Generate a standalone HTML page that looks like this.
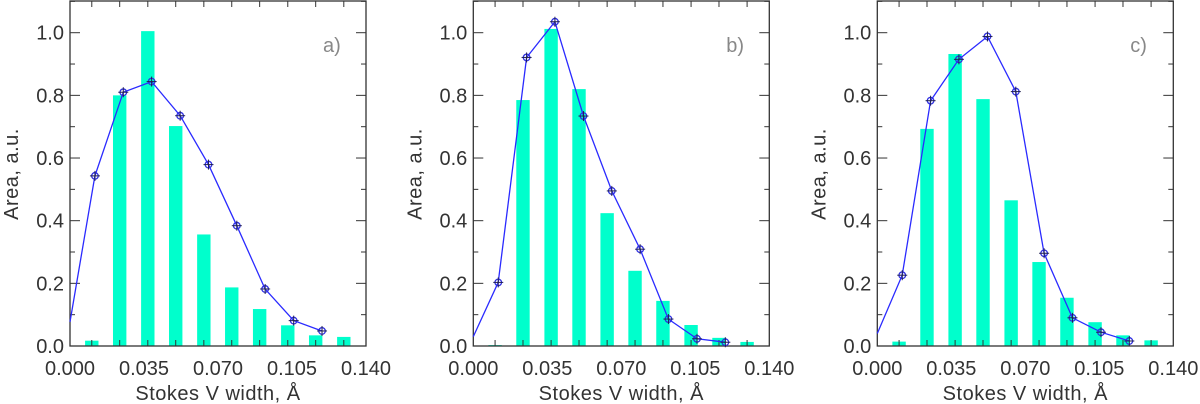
<!DOCTYPE html>
<html><head><meta charset="utf-8"><style>
html,body{margin:0;padding:0;background:#fff;}
svg{display:block;font-family:"Liberation Sans",sans-serif;}
</style></head><body>
<svg id="chart" width="1200" height="404" viewBox="0 0 1200 404" xmlns="http://www.w3.org/2000/svg"></svg>
<script>
const xTicks = [0, 0.035, 0.070, 0.105, 0.140];
const xTickLabels = ["0.000", "0.035", "0.070", "0.105", "0.140"];
const yTicks = [0, 0.2, 0.4, 0.6, 0.8, 1.0];
const yTickLabels = ["0.0", "0.2", "0.4", "0.6", "0.8", "1.0"];
const barX = [0.0103, 0.0235, 0.0368, 0.0500, 0.0633, 0.0765, 0.0897, 0.1030, 0.1162, 0.1295];
const lineX = [0, 0.0118, 0.0252, 0.0386, 0.0521, 0.0655, 0.0789, 0.0923, 0.1058, 0.1192];
const panelLabels = ["a)", "b)", "c)"];
const barsA = [0.017, 0.80, 1.005, 0.702, 0.356, 0.187, 0.118, 0.066, 0.034, 0.029];
const barsB = [0.003, 0.785, 1.012, 0.82, 0.424, 0.24, 0.144, 0.067, 0.026, 0.013];
const barsC = [0.014, 0.693, 0.932, 0.788, 0.465, 0.268, 0.154, 0.076, 0.034, 0.018];
const lineA = [0.077, 0.543, 0.81, 0.844, 0.735, 0.579, 0.384, 0.182, 0.081, 0.048];
const lineB = [0.03, 0.203, 0.921, 1.035, 0.734, 0.495, 0.309, 0.086, 0.023, 0.012];
const lineC = [0.04, 0.226, 0.783, 0.915, 0.988, 0.812, 0.296, 0.09, 0.044, 0.016];

const NS = "http://www.w3.org/2000/svg";
const svg = document.getElementById("chart");
function mk(tag, attrs, parent){const e=document.createElementNS(NS,tag);for(const k in attrs)e.setAttribute(k,attrs[k]);(parent||svg).appendChild(e);return e;}

const panels = [
  {x0:70, bars:barsA, line:lineA},
  {x0:473.3, bars:barsB, line:lineB},
  {x0:877.3, bars:barsC, line:lineC}
];
const W = 296, yTop = 1, yBot = 346, yScale = 313.3, xMax = 0.14;

panels.forEach((p, pi) => {
  const g = mk("g", {});
  
  
  const sx = v => p.x0 + v / xMax * W;
  const sy = v => yBot - v * yScale;
  // bars
  p.bars.forEach((v, i) => {
    const r = mk("rect", {x: sx(barX[i]) - 6.7, y: sy(v), width: 13.4, height: yBot - sy(v), fill: "#00ffcc"}, g);
    
    
  });
  // frame
  const fr = mk("rect", {x: p.x0, y: yTop, width: W, height: yBot - yTop, fill: "none", stroke: "#333", "stroke-width": 1.3}, g);
  
  
  // y ticks (major + minor)
  for (let k = 0; k <= 11; k++) {
    const v = k * 0.1, y = sy(v), len = (k % 2 === 0) ? 10 : 5;
    mk("line", {x1: p.x0, x2: p.x0 + len, y1: y, y2: y, stroke: "#333", "stroke-width": 1}, g);
    mk("line", {x1: p.x0 + W, x2: p.x0 + W - len, y1: y, y2: y, stroke: "#333", "stroke-width": 1}, g);
  }
  yTicks.forEach((v, i) => {
    const t = mk("text", {x: p.x0 - 6, y: sy(v) + 7, "text-anchor": "end", "font-size": 20, fill: "#333"}, g);
    t.textContent = yTickLabels[i];
    
    
  });
  // x ticks
  barX.forEach(v => {
    mk("line", {x1: sx(v), x2: sx(v), y1: yBot, y2: yBot - 6, stroke: "#333", "stroke-width": 1}, g);
    mk("line", {x1: sx(v), x2: sx(v), y1: yTop, y2: yTop + 6, stroke: "#333", "stroke-width": 1}, g);
  });
  xTicks.forEach((v, i) => {
    const t = mk("text", {x: sx(v), y: 375, "text-anchor": "middle", "font-size": 20, fill: "#333"}, g);
    t.textContent = xTickLabels[i];
    
    
  });
  // line
  const pts = p.line.map((v, i) => sx(lineX[i]).toFixed(1) + "," + sy(v).toFixed(1)).join(" ");
  const pl = mk("polyline", {points: pts, fill: "none", stroke: "#2a2aff", "stroke-width": 1.3}, g);
  
  
  p.line.forEach((v, i) => {
    if (i === 0) return;
    const cx = sx(lineX[i]), cy = sy(v);
    const m = mk("g", {}, g);
    
    
    mk("circle", {cx: cx, cy: cy, r: 3.3, fill: "none", stroke: "#3030e0", "stroke-width": 1.3}, m);
    mk("line", {x1: cx - 5, x2: cx + 5, y1: cy, y2: cy, stroke: "#202050", "stroke-width": 1}, m);
    mk("line", {x1: cx, x2: cx, y1: cy - 5, y2: cy + 5, stroke: "#202050", "stroke-width": 1}, m);
  });
  // panel label
  const pl2 = mk("text", {x: p.x0 + 253, y: 52, "font-size": 20, fill: "#888"}, g);
  pl2.textContent = panelLabels[pi];
  
  
  // axis titles
  const xt = mk("text", {x: p.x0 + W / 2, y: 400, "text-anchor": "middle", "font-size": 20, fill: "#333", "letter-spacing": "0.5"}, g);
  xt.textContent = "Stokes V width, Å";
  
  
  const ytx = p.x0 - 52, yty = 174;
  const yt = mk("text", {x: ytx, y: yty, "text-anchor": "middle", "font-size": 20, fill: "#333", transform: "rotate(-90 " + ytx + " " + yty + ")", "letter-spacing": "0.5"}, g);
  yt.textContent = "Area, a.u.";
  
  
});
</script>
</body></html>
